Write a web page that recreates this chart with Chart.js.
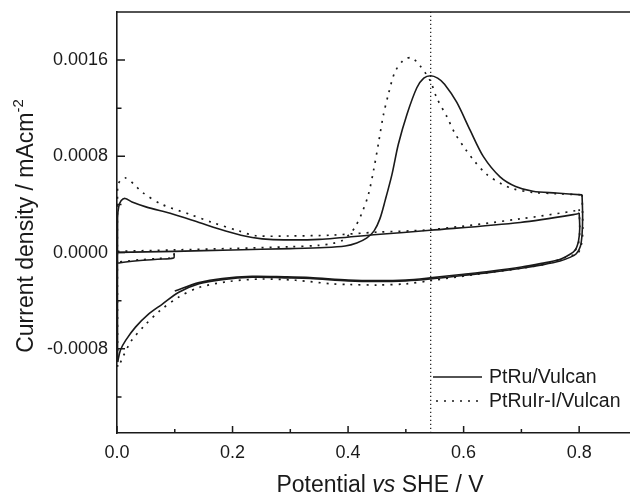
<!DOCTYPE html>
<html>
<head>
<meta charset="utf-8">
<title>CO stripping voltammograms</title>
<script src="https://cdn.jsdelivr.net/npm/chart.js@4.4.1/dist/chart.umd.min.js"></script>
<style>
  html, body { margin: 0; padding: 0; background: #fff; }
  #wrap { width: 630px; height: 494px; }
</style>
</head>
<body>
<div id="wrap"><canvas id="cv"></canvas></div>
<script>
// Potential (V vs SHE) / current density (mA cm-2) pairs, one array per sweep branch

// PtRu/Vulcan
const ptRuStart = [[0.099, -0.00001], [0.098, -0.000046], [0.07, -0.000055], [0.04, -0.000066], [0.015, -0.000078], [0.002, -0.000088]];
const ptRuAnodic1 = [[0.001, 0.000002], [0.1, 0.00001], [0.2, 0.000022], [0.3, 0.000033], [0.36, 0.000042], [0.395, 0.000055],
  [0.415, 0.00008], [0.432, 0.00012], [0.445, 0.00018], [0.455, 0.00028], [0.464, 0.00043], [0.476, 0.00065], [0.487, 0.0009],
  [0.502, 0.00115], [0.519, 0.00137], [0.531, 0.00145], [0.543, 0.00147], [0.555, 0.00145], [0.567, 0.0014], [0.588, 0.00125],
  [0.611, 0.00102], [0.634, 0.0008], [0.663, 0.00063], [0.69, 0.00055], [0.72, 0.00051], [0.76, 0.000495], [0.805, 0.00048]];
const ptRuCathodic1 = [[0.805, 0.00048], [0.806, 0.0003], [0.805, 0.00015], [0.802, 0.00005], [0.795, -0.00001], [0.784, -0.00004],
  [0.767, -0.00007], [0.738, -0.0001], [0.7, -0.00013], [0.646, -0.000165], [0.6, -0.00019], [0.542, -0.00022], [0.5, -0.000235],
  [0.45, -0.00024], [0.4, -0.000235], [0.334, -0.000215], [0.29, -0.00021], [0.234, -0.000205], [0.182, -0.000225], [0.142, -0.00026],
  [0.107, -0.00033], [0.078, -0.00043], [0.055, -0.00051], [0.032, -0.00062], [0.015, -0.00073], [0.006, -0.00081], [0.001, -0.00091]];
const ptRuAnodic2 = [[0.001, -0.00091], [0.001, 0.00029], [0.003, 0.00038], [0.007, 0.00043], [0.014, 0.00045], [0.026, 0.00042],
  [0.05, 0.00038], [0.096, 0.00032], [0.142, 0.00025], [0.188, 0.00018], [0.234, 0.000125], [0.27, 0.000108], [0.35, 0.00011],
  [0.45, 0.00015], [0.542, 0.000185], [0.698, 0.00025], [0.796, 0.00032], [0.8, 0.00033]];
const ptRuCathodic2 = [[0.8, 0.00033], [0.801, 0.0002], [0.799, 0.0001], [0.793, 0.00002], [0.782, -0.00002], [0.765, -0.00006],
  [0.735, -0.00009], [0.7, -0.00012], [0.646, -0.000155], [0.6, -0.00018], [0.542, -0.00021], [0.5, -0.000228], [0.45, -0.000233],
  [0.4, -0.000228], [0.334, -0.000208], [0.29, -0.000202], [0.234, -0.000198], [0.182, -0.000215], [0.142, -0.00025], [0.1, -0.00032]];

// PtRuIr-I/Vulcan
const ptRuIrStart = [[0.099, -0.000005], [0.098, -0.00004], [0.07, -0.00005], [0.04, -0.00006], [0.015, -0.000072], [0.002, -0.00008]];
const ptRuIrAnodic1 = [[0.001, 0.00001], [0.1, 0.000022], [0.2, 0.000034], [0.3, 0.000048], [0.35, 0.00006], [0.372, 0.000075],
  [0.39, 0.0001], [0.402, 0.00015], [0.412, 0.00021], [0.424, 0.00033], [0.435, 0.00048], [0.444, 0.00068], [0.453, 0.00092],
  [0.461, 0.00114], [0.47, 0.00132], [0.481, 0.0015], [0.496, 0.0016], [0.51, 0.00162], [0.525, 0.00155], [0.542, 0.00143],
  [0.554, 0.00128], [0.571, 0.00113], [0.585, 0.00099], [0.603, 0.00086], [0.617, 0.00077], [0.64, 0.00065], [0.666, 0.00057],
  [0.686, 0.00053], [0.72, 0.0005], [0.76, 0.00049], [0.805, 0.00048]];
const ptRuIrCathodic1 = [[0.805, 0.00048], [0.806, 0.0003], [0.806, 0.00015], [0.803, 0.00005], [0.797, -0.00001], [0.784, -0.000027],
  [0.765, -0.00006], [0.738, -0.0001], [0.7, -0.00013], [0.623, -0.00018], [0.542, -0.000234], [0.5, -0.00026], [0.45, -0.00027],
  [0.4, -0.000265], [0.372, -0.00026], [0.309, -0.00023], [0.251, -0.00022], [0.194, -0.00024], [0.142, -0.00029], [0.107, -0.00037],
  [0.075, -0.00048], [0.047, -0.00061], [0.024, -0.00074], [0.009, -0.00088], [0.003, -0.00095]];
const ptRuIrAnodic2 = [[0.001, -0.00095], [0.001, 0.00055], [0.006, 0.0006], [0.015, 0.00062], [0.029, 0.00057], [0.044, 0.0005],
  [0.078, 0.0004], [0.125, 0.00032], [0.165, 0.00025], [0.211, 0.00018], [0.24, 0.00014], [0.3, 0.000138], [0.372, 0.000145],
  [0.45, 0.00017], [0.542, 0.00019], [0.698, 0.00028], [0.796, 0.00035], [0.8, 0.00036]];
const ptRuIrReturn = [[0.8, 0.00036], [0.801, 0.0002], [0.799, 0.00008], [0.79, -0.00001]];

const seriesNames = ['PtRu/Vulcan', 'PtRuIr-I/Vulcan'];
const markerPotential = 0.543;   // PtRu CO-stripping peak

const potentialTicks = [0, 0.2, 0.4, 0.6, 0.8];
const potentialMinor = [0.1, 0.3, 0.5, 0.7];
const currentTicks = [-0.0008, 0, 0.0008, 0.0016];
const currentMinor = [-0.0012, -0.0004, 0.0004, 0.0012];

const ink = '#1a1a1a';
const font = '"Liberation Sans", Arial, Helvetica, sans-serif';

const toPoints = arr => arr.map(p => ({ x: p[0], y: p[1] }));

function solid(branch) {
  return { data: toPoints(branch), borderColor: ink, borderWidth: 1.6, tension: 0.3 };
}
function dotted(branch) {
  return { data: toPoints(branch), borderColor: ink, borderWidth: 1.7, borderDash: [2, 6], tension: 0.3 };
}

const datasets = [
  solid(ptRuStart), solid(ptRuAnodic1), solid(ptRuCathodic1), solid(ptRuAnodic2), solid(ptRuCathodic2),
  dotted(ptRuIrStart), dotted(ptRuIrAnodic1), dotted(ptRuIrCathodic1), dotted(ptRuIrAnodic2), dotted(ptRuIrReturn),
  { data: [{ x: markerPotential, y: -0.0015 }, { x: markerPotential, y: 0.002 }], borderColor: ink, borderWidth: 1.2, borderDash: [1.2, 2.8] }
];

// ticks pointing inward, axis titles with italic / superscript parts, legend inside the plot
const decorations = {
  id: 'decorations',
  afterDraw(chart) {
    const { ctx, chartArea: area, scales: { x, y } } = chart;
    ctx.save();
    ctx.strokeStyle = ink;
    ctx.lineWidth = 1.5;

    ctx.beginPath();
    ctx.moveTo(area.left, area.top);
    ctx.lineTo(area.right, area.top);
    ctx.stroke();

    ctx.beginPath();
    potentialTicks.forEach(v => { const px = x.getPixelForValue(v); ctx.moveTo(px, area.bottom); ctx.lineTo(px, area.bottom - 7); });
    potentialMinor.forEach(v => { const px = x.getPixelForValue(v); ctx.moveTo(px, area.bottom); ctx.lineTo(px, area.bottom - 4); });
    currentTicks.forEach(v => { const py = y.getPixelForValue(v); ctx.moveTo(area.left, py); ctx.lineTo(area.left + 8, py); });
    currentMinor.forEach(v => { const py = y.getPixelForValue(v); ctx.moveTo(area.left, py); ctx.lineTo(area.left + 4.5, py); });
    ctx.stroke();

    ctx.fillStyle = ink;
    ctx.textBaseline = 'alphabetic';
    ctx.textAlign = 'left';

    // x title: Potential vs SHE / V
    const parts = [['Potential ', '23px ' + font], ['vs', 'italic 23px ' + font], [' SHE / V', '23px ' + font]];
    let total = 0;
    parts.forEach(p => { ctx.font = p[1]; total += ctx.measureText(p[0]).width; });
    let tx = 380 - total / 2;
    parts.forEach(p => { ctx.font = p[1]; ctx.fillText(p[0], tx, 492); tx += ctx.measureText(p[0]).width; });

    // y title: Current density / mAcm-2
    ctx.translate(33, 226);
    ctx.rotate(-Math.PI / 2);
    ctx.font = '23px ' + font;
    const main = 'Current density / mAcm';
    const mw = ctx.measureText(main).width;
    ctx.font = '15px ' + font;
    const sw = ctx.measureText('-2').width;
    const start = -(mw + sw) / 2;
    ctx.font = '23px ' + font;
    ctx.fillText(main, start, 0);
    ctx.font = '15px ' + font;
    ctx.fillText('-2', start + mw, -10);
    ctx.restore();

    // legend
    ctx.save();
    ctx.strokeStyle = ink;
    ctx.fillStyle = ink;
    ctx.font = '19.5px ' + font;
    ctx.textBaseline = 'middle';
    ctx.textAlign = 'left';
    const lx = area.right - 197, ly = area.bottom - 56;
    ctx.lineWidth = 1.6;
    ctx.beginPath(); ctx.moveTo(lx, ly); ctx.lineTo(lx + 49, ly); ctx.stroke();
    ctx.fillText(seriesNames[0], lx + 56, ly + 1);
    ctx.lineWidth = 1.7;
    ctx.setLineDash([2, 6]);
    ctx.beginPath(); ctx.moveTo(lx + 3, ly + 24); ctx.lineTo(lx + 49, ly + 24); ctx.stroke();
    ctx.fillText(seriesNames[1], lx + 56, ly + 25);
    ctx.restore();
  }
};

new Chart(document.getElementById('cv'), {
  type: 'scatter',
  data: { datasets: datasets },
  options: {
    responsive: true,
    maintainAspectRatio: false,
    animation: false,
    devicePixelRatio: 1,
    layout: { padding: { top: 12, right: 0, left: 0, bottom: 0 } },
    datasets: { scatter: { showLine: true, pointRadius: 0, pointHoverRadius: 0 } },
    plugins: { legend: { display: false }, tooltip: { enabled: false } },
    scales: {
      x: {
        type: 'linear', min: 0, max: 0.888,
        afterFit: s => { s.height = 61; s.paddingLeft = 0; s.paddingRight = 0; },
        afterBuildTicks: s => { s.ticks = potentialTicks.map(v => ({ value: v })); },
        grid: { display: false, drawTicks: false },
        border: { display: true, color: ink, width: 1.6 },
        ticks: { padding: 9, color: ink, font: { family: font, size: 18 }, maxRotation: 0, callback: v => v.toFixed(1) }
      },
      y: {
        type: 'linear', min: -0.0015, max: 0.002,
        afterFit: s => { s.width = 117; s.paddingTop = 0; s.paddingBottom = 0; },
        afterBuildTicks: s => { s.ticks = currentTicks.map(v => ({ value: v })); },
        grid: { display: false, drawTicks: false },
        border: { display: true, color: ink, width: 1.6 },
        ticks: { padding: 9, color: ink, font: { family: font, size: 18 }, callback: v => v.toFixed(4) }
      }
    }
  },
  plugins: [decorations]
});
</script>
</body>
</html>
